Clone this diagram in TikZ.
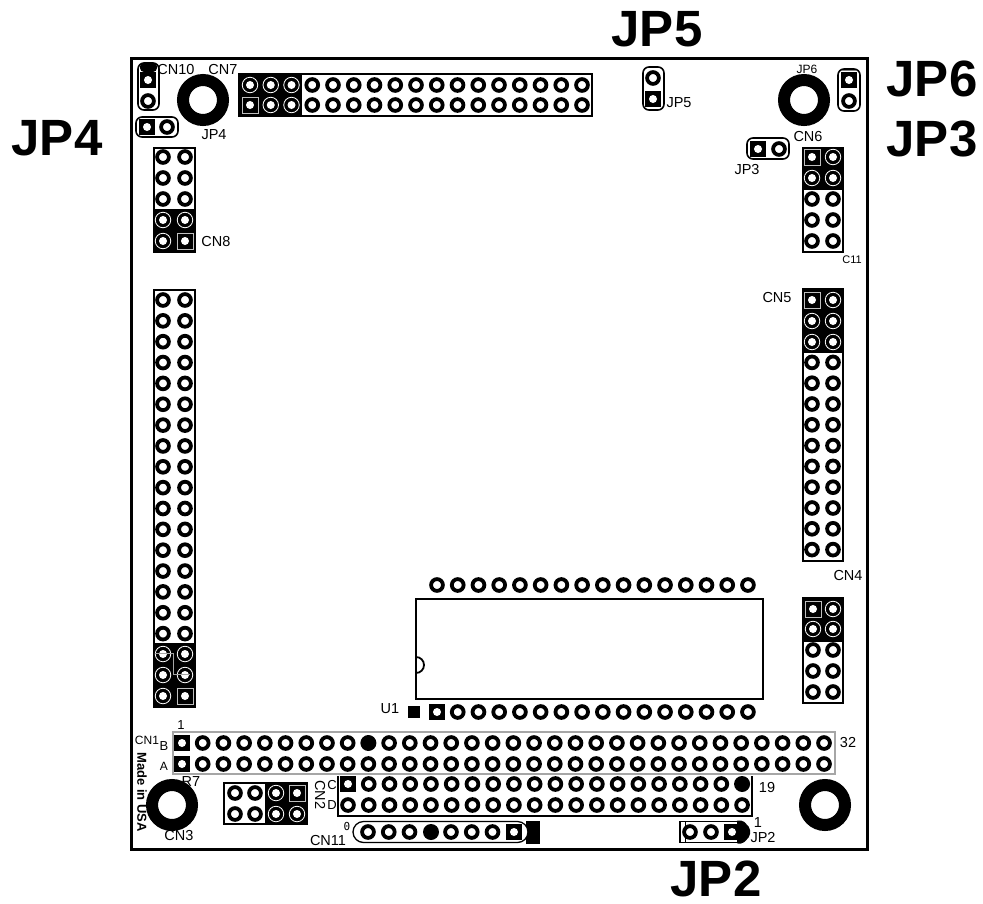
\documentclass[tikz,border=0pt]{standalone}
\usepackage{fontspec}
\setmainfont{Liberation Sans}
\newfontfamily\monofam{DejaVu Sans Mono}
\newcommand\fsz[1]{\fontsize{#1}{#1}\selectfont}
\tikzset{
  ring/.style={circle,draw=black,fill=white,line width=3.8pt,minimum size=11.8pt,inner sep=0pt},
  solidpin/.style={circle,fill=black,minimum size=16pt,inner sep=0pt},
  bring/.style={circle,draw=white,fill=black,line width=.8pt,minimum size=15.5pt,inner sep=0pt},
  hole/.style={circle,fill=white,minimum size=8pt,inner sep=0pt},
  bsquare/.style={rectangle,draw=white!75!black,fill=black,line width=.7pt,minimum size=16pt,inner sep=0pt},
  psquare/.style={rectangle,fill=black,minimum size=15.5pt,inner sep=0pt},
  mount/.style={circle,draw=black,fill=white,line width=12pt,minimum size=40pt,inner sep=0pt},
  blockbox/.style={draw=black,fill=white,line width=1.8pt},
  blackbox/.style={fill=black},
  jumper/.style={draw=black,fill=white,line width=1.6pt,rounded corners=6pt},
  lab/.style={inner sep=0pt,font=\fsz{14.5}},
  title/.style={inner sep=0pt,anchor=base,font=\fsz{51}\bfseries},
}
\newcommand\bpad[3]{\node[bring] (#1) at (#2,#3) {};\node[hole] at (#2,#3) {};}
\newcommand\bsq[3]{\node[bsquare] (#1) at (#2,#3) {};\node[hole] at (#2,#3) {};}
\newcommand\psq[3]{\node[psquare] (#1) at (#2,#3) {};\node[hole] at (#2,#3) {};}
\begin{document}
\begin{tikzpicture}[x=1pt,y=-1pt]
\useasboundingbox (0,0) rectangle (983,903);
\fill[white] (0,0) rectangle (983,903);
\draw[black,line width=3pt,fill=white] (131,58) rectangle (867,849);

% titles
\node[title] (tJP5) at (657,46.5) {JP5};
\node[title] (tJP6) at (932,96) {JP6};
\node[title] (tJP3) at (932,156) {JP3};
\node[title] (tJP4) at (57,155) {JP4};
\node[title] (tJP2) at (716,896.5) {JP2};

% CN10 jumper
\draw[jumper] (138,63) rectangle (159,110);
\fill[black,rounded corners=4pt] (140,62.5) rectangle (157,72);
\psq{cnTa}{148}{80}
\node[ring] (cnTb) at (148,101) {};
% JP4 jumper
\draw[jumper] (136,117) rectangle (178,137);
\psq{jfa}{147}{127}
\node[ring] (jfb) at (167,127) {};
% JP5 jumper
\draw[jumper] (643,67) rectangle (664,110);
\node[ring] (jva) at (653,78) {};
\psq{jvb}{653}{99}
% JP6 jumper
\draw[jumper] (838,69) rectangle (860,111);
\draw[black!50,line width=1pt] (842,70.5) -- (856,70.5);
\psq{jsa}{849}{80}
\node[ring] (jsb) at (849,101) {};
% JP3 jumper
\draw[jumper] (747,138) rectangle (789,159);
\psq{jta}{758}{149}
\node[ring] (jtb) at (779,149) {};

% mount holes
\node[mount] (m1) at (203,100) {};
\node[mount] (m2) at (804,100) {};
\node[mount] (m3) at (172,805) {};
\node[mount] (m4) at (825,805) {};

% CN7 header
\draw[blockbox] (239,74) rectangle (592,116);
\fill[blackbox] (238,73) rectangle (302,117);
\foreach \i in {0,1,2} {
  \bpad{ct\i}{{250+\i*20.75}}{85}
  \ifnum\i>0 \bpad{cb\i}{{250+\i*20.75}}{105}\fi
}
\bsq{cb0}{250}{105}
\foreach \i in {3,...,16} {
  \node[ring] (ct\i) at ({250+\i*20.75},85) {};
  \node[ring] (cb\i) at ({250+\i*20.75},105) {};
}

% CN8 header
\draw[blockbox] (154,148) rectangle (195,252);
\fill[blackbox] (153,209) rectangle (196,253);
\foreach \y in {157,178,199} {
  \node[ring] (ea\y) at (163,\y) {};
  \node[ring] (eb\y) at (185,\y) {};
}
\bpad{ea220}{163}{220}
\bpad{eb220}{185}{220}
\bpad{ea241}{163}{241}
\bsq{eb241}{185}{241}

% left long header
\draw[blockbox] (154,290) rectangle (195,707);
\fill[blackbox] (153,643) rectangle (196,708);
\foreach \i in {0,...,16} {
  \node[ring] (la\i) at (163,{300+\i*20.85}) {};
  \node[ring] (lb\i) at (185,{300+\i*20.85}) {};
}
\bpad{la17}{163}{654}
\bpad{lb17}{185}{654}
\bpad{la18}{163}{675}
\bpad{lb18}{185}{675}
\bpad{la19}{163}{696}
\bsq{lb19}{185}{696}
\draw[black!35,line width=1pt] (155,653.5) -- (173,653.5) -- (173,674.5) -- (190,674.5);

% CN6 / C11 header
\draw[blockbox] (803,148) rectangle (843,252);
\fill[blackbox] (802,147) rectangle (844,190);
\bsq{fa0}{812}{157}
\bpad{fb0}{833}{157}
\bpad{fa1}{812}{178}
\bpad{fb1}{833}{178}
\foreach \y in {199,220,241} {
  \node[ring] (fa\y) at (812,\y) {};
  \node[ring] (fb\y) at (833,\y) {};
}

% CN5 / CN4 header
\draw[blockbox] (803,289) rectangle (843,561);
\fill[blackbox] (802,288) rectangle (844,353);
\bsq{ga0}{812}{300}
\bpad{gb0}{833}{300}
\bpad{ga1}{812}{321}
\bpad{gb1}{833}{321}
\bpad{ga2}{812}{342}
\bpad{gb2}{833}{342}
\foreach \i in {3,...,12} {
  \node[ring] (ga\i) at (812,{300+\i*20.8}) {};
  \node[ring] (gb\i) at (833,{300+\i*20.8}) {};
}

% lower right header
\draw[blockbox] (803,598) rectangle (843,703);
\fill[blackbox] (802,597) rectangle (844,642);
\bsq{ha0}{813}{609}
\bpad{hb0}{833}{609}
\bpad{ha1}{813}{629}
\bpad{hb1}{833}{629}
\foreach \y in {650,671,692} {
  \node[ring] (ha\y) at (813,\y) {};
  \node[ring] (hb\y) at (833,\y) {};
}

% U1
\draw[black,line width=1.8pt,fill=white] (416,599) -- (763,599) -- (763,699) -- (416,699) -- (416,657) arc[start angle=-90,end angle=90,radius=8] -- cycle;
\psq{ub0}{437}{712}
\foreach \i in {0,...,15} {
  \node[ring] (ut\i) at ({437+\i*20.73},585) {};
}
\foreach \i in {1,...,15} {
  \node[ring] (ub\i) at ({437+\i*20.73},712) {};
}
\node[fill=black,minimum size=12pt,inner sep=0pt] (umark) at (414,712) {};

% CN1
\draw[draw=black!35,fill=white,line width=2pt] (173,732) rectangle (835,774);
\psq{na0}{182}{743}
\psq{nb0}{182}{764}
\foreach \i in {1,...,31} {
  \ifnum\i=9 \node[solidpin] (na\i) at ({182+\i*20.71},743) {};
  \else \node[ring] (na\i) at ({182+\i*20.71},743) {};\fi
  \node[ring] (nb\i) at ({182+\i*20.71},764) {};
}

% CN2
\draw[blockbox] (224,783) rectangle (307,824);
\fill[blackbox] (265,782) rectangle (308,825);
\node[ring] (ka) at (235,793) {};
\node[ring] (kb) at (255,793) {};
\node[ring] (kc) at (235,814) {};
\node[ring] (kd) at (255,814) {};
\bpad{ke}{276}{793}
\bsq{kf}{297}{793}
\bpad{kg}{276}{814}
\bpad{kh}{297}{814}

% C/D header
\draw[black,line width=1.8pt] (338,776) -- (338,816) -- (752,816) -- (752,776);
\psq{da0}{348}{784}
\node[ring] (db0) at (348,805) {};
\foreach \i in {1,...,19} {
  \ifnum\i=19 \node[solidpin] (da\i) at ({348+\i*20.74},784) {};
  \else \node[ring] (da\i) at ({348+\i*20.74},784) {};\fi
  \node[ring] (db\i) at ({348+\i*20.74},805) {};
}

% CN11
\fill[blackbox] (526,821) rectangle (539.5,843.5);
\draw[draw=black,fill=white,line width=1.3pt,rounded corners=10.5pt] (353,821.5) rectangle (528,842.5);
\foreach \i in {0,1,2,4,5,6} {
  \node[ring] (q\i) at ({368+\i*20.75},832) {};
}
\node[solidpin] (q3) at (431,832) {};
\psq{q7}{514}{832}

% JP2
\fill[blackbox,rounded corners=2pt] (736,820.5) -- (743,820.5) -- (750,828) -- (750,836) -- (743,843.5) -- (736,843.5) -- cycle;
\draw[black,line width=1.5pt,fill=white] (737,821.5) -- (680,821.5) -- (680,842.5) -- (737,842.5);
\draw[black,line width=1pt] (685,821.5) -- (685,842.5);
\node[ring] (ja) at (690,832) {};
\node[ring] (jb) at (711,832) {};
\psq{jc}{732}{832}

% small labels
\node[lab] (lCNa) at (176,70) {CN10};
\node[lab] (lCN7) at (223,70) {CN7};
\node[lab] (lJP4) at (214,135) {JP4};
\node[lab] (lCN8) at (216,242) {CN8};
\node[lab,font=\fsz{13}] (lone) at (181,725) {1};
\node[lab,font=\fsz{12}] (lCN1) at (147,740) {CN1};
\node[lab,font=\fsz{13}] (lB) at (164,746) {B};
\node[lab,font=\fsz{12}] (lA) at (164,766) {A};
\node[lab,font=\fsz{13}\bfseries,rotate=-90] (lMade) at (142,792) {Made in USA};
\node[lab] (lR7) at (191,781) {R7};
\node[lab] (lCN3) at (179,835) {CN3};
\node[lab,rotate=-90] (lCN2) at (320,795) {CN2};
\node[lab,font=\fsz{13}] (lC) at (332,785) {C};
\node[lab,font=\fsz{13}] (lD) at (332,805) {D};
\node[lab] (lCNb) at (328,840) {CN11};
\node[lab,font=\fsz{11}\monofam] (lzero) at (347,826) {0};
\node[lab] (lU1) at (390,709) {U1};
\node[lab] (l32) at (848,742) {32};
\node[lab] (l19) at (767,787) {19};
\node[lab] (ljone) at (758,822) {1};
\node[lab] (lJP2) at (763,837) {JP2};
\node[lab] (lJP5) at (679,103) {JP5};
\node[lab,font=\fsz{12}] (lJP6) at (807,69) {JP6};
\node[lab] (lCN6) at (808,137) {CN6};
\node[lab] (lJP3) at (747,170) {JP3};
\node[lab,font=\fsz{11}] (lC11) at (852,260) {C11};
\node[lab] (lCN5) at (777,298) {CN5};
\node[lab] (lCN4) at (848,575) {CN4};
\end{tikzpicture}
\end{document}
